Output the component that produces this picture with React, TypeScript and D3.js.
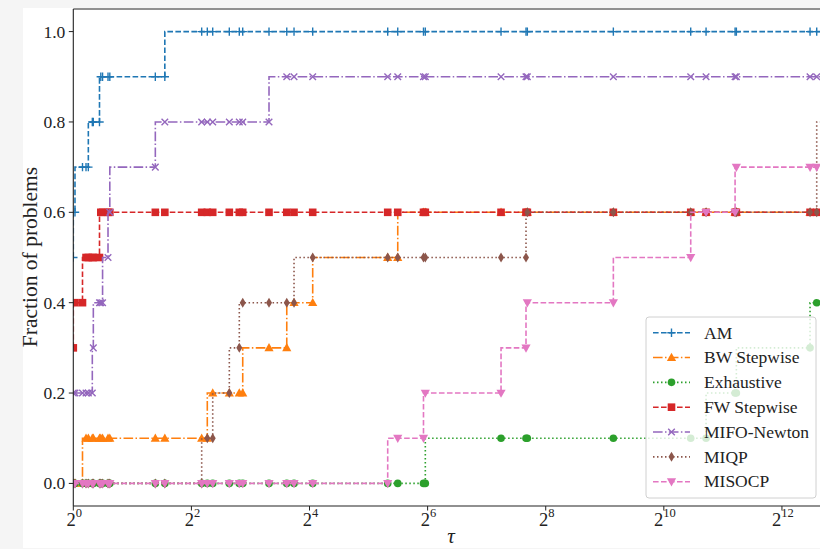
import React, { useEffect, useRef } from 'react';
import * as d3 from 'd3';

// common tau grid (performance ratios of all solvers)
const tau = [1, 1.02, 1.114, 1.161, 1.193, 1.25, 1.265, 1.36, 1.381, 1.41,
  1.503, 1.535, 2.619, 2.928, 4.513, 4.82, 5.137, 6.242, 7.018, 7.306,
  9.946, 12.25, 13.34, 16.61, 40.06, 45.07, 60.97, 62.29, 151.5, 203.1,
  206.3, 566.2, 1404, 1681, 2363, 2399, 5697, 6161, 7116];

const solverNames = ['AM', 'BW Stepwise', 'Exhaustive', 'FW Stepwise', 'MIFO-Newton', 'MIQP', 'MISOCP'];

const amValues = [0.5, 0.6, 0.7, 0.7, 0.7, 0.8, 0.8, 0.8, 0.9, 0.9,
  0.9, 0.9, 0.9, 0.9, 1, 1, 1, 1, 1, 1,
  1, 1, 1, 1, 1, 1, 1, 1, 1, 1,
  1, 1, 1, 1, 1, 1, 1, 1, 1];
const bwValues = [0, 0, 0, 0.1, 0.1, 0.1, 0.1, 0.1, 0.1, 0.1,
  0.1, 0.1, 0.1, 0.1, 0.1, 0.1, 0.2, 0.2, 0.2, 0.2,
  0.3, 0.3, 0.4, 0.4, 0.5, 0.5, 0.6, 0.6, 0.6, 0.6,
  0.6, 0.6, 0.6, 0.6, 0.6, 0.6, 0.6, 0.6, 0.6];
const exhaustiveValues = [0, 0, 0, 0, 0, 0, 0, 0, 0, 0,
  0, 0, 0, 0, 0, 0, 0, 0, 0, 0,
  0, 0, 0, 0, 0, 0, 0, 0, 0.1, 0.1,
  0.1, 0.1, 0.1, 0.1, 0.2, 0.2, 0.3, 0.4, 0.4];
const fwValues = [0.3, 0.4, 0.4, 0.5, 0.5, 0.5, 0.5, 0.5, 0.6, 0.6,
  0.6, 0.6, 0.6, 0.6, 0.6, 0.6, 0.6, 0.6, 0.6, 0.6,
  0.6, 0.6, 0.6, 0.6, 0.6, 0.6, 0.6, 0.6, 0.6, 0.6,
  0.6, 0.6, 0.6, 0.6, 0.6, 0.6, 0.6, 0.6, 0.6];
const mifoValues = [0.2, 0.2, 0.2, 0.2, 0.2, 0.2, 0.3, 0.4, 0.4, 0.4,
  0.5, 0.6, 0.7, 0.8, 0.8, 0.8, 0.8, 0.8, 0.8, 0.8,
  0.8, 0.9, 0.9, 0.9, 0.9, 0.9, 0.9, 0.9, 0.9, 0.9,
  0.9, 0.9, 0.9, 0.9, 0.9, 0.9, 0.9, 0.9, 0.9];
const miqpValues = [0, 0, 0, 0, 0, 0, 0, 0, 0, 0,
  0, 0, 0, 0, 0, 0.1, 0.1, 0.2, 0.3, 0.4,
  0.4, 0.4, 0.4, 0.5, 0.5, 0.5, 0.5, 0.5, 0.5, 0.5,
  0.6, 0.6, 0.6, 0.6, 0.6, 0.6, 0.6, 0.6, 0.8];
const misocpValues = [0, 0, 0, 0, 0, 0, 0, 0, 0, 0,
  0, 0, 0, 0, 0, 0, 0, 0, 0, 0,
  0, 0, 0, 0, 0, 0.1, 0.1, 0.2, 0.2, 0.3,
  0.4, 0.4, 0.5, 0.6, 0.6, 0.7, 0.7, 0.7, 0.7];

const yTicks = [0, 0.2, 0.4, 0.6, 0.8, 1.0];
const xTickExponents = [0, 2, 4, 6, 8, 10, 12];

const series = [
  { name: solverNames[0], values: amValues, color: '#1f77b4', dash: '5.6,2.4', marker: 'plus' },
  { name: solverNames[1], values: bwValues, color: '#ff7f0e', dash: '9.6,2.4,1.5,2.4', marker: 'triUp' },
  { name: solverNames[2], values: exhaustiveValues, color: '#2ca02c', dash: '1.5,2.5', marker: 'circle' },
  { name: solverNames[3], values: fwValues, color: '#d62728', dash: '5.6,2.4', marker: 'square' },
  { name: solverNames[4], values: mifoValues, color: '#9467bd', dash: '9.6,2.4,1.5,2.4', marker: 'x' },
  { name: solverNames[5], values: miqpValues, color: '#8c564b', dash: '1.5,2.5', marker: 'thinDiamond' },
  { name: solverNames[6], values: misocpValues, color: '#e377c2', dash: '5.6,2.4', marker: 'triDown' },
];

const FONT = "'Liberation Serif', 'DejaVu Serif', serif";

function drawMarker(g: any, shape: string, color: string, x: number, y: number) {
  if (shape === 'plus') {
    g.append('path').attr('d', `M${x - 4.2},${y}H${x + 4.2}M${x},${y - 4.2}V${y + 4.2}`)
      .attr('stroke', color).attr('stroke-width', 1.4).attr('fill', 'none');
  } else if (shape === 'x') {
    g.append('path').attr('d', `M${x - 3.3},${y - 3.3}L${x + 3.3},${y + 3.3}M${x - 3.3},${y + 3.3}L${x + 3.3},${y - 3.3}`)
      .attr('stroke', color).attr('stroke-width', 1.4).attr('fill', 'none');
  } else if (shape === 'circle') {
    g.append('circle').attr('cx', x).attr('cy', y).attr('r', 3.8).attr('fill', color);
  } else if (shape === 'square') {
    g.append('rect').attr('x', x - 3.8).attr('y', y - 3.8).attr('width', 7.6).attr('height', 7.6).attr('fill', color);
  } else if (shape === 'triUp') {
    g.append('path').attr('d', `M${x},${y - 4.8}L${x + 4.6},${y + 3.4}L${x - 4.6},${y + 3.4}Z`).attr('fill', color);
  } else if (shape === 'triDown') {
    g.append('path').attr('d', `M${x},${y + 4.8}L${x + 4.6},${y - 3.4}L${x - 4.6},${y - 3.4}Z`).attr('fill', color);
  } else if (shape === 'thinDiamond') {
    g.append('path').attr('d', `M${x},${y - 5}L${x + 3},${y}L${x},${y + 5}L${x - 3},${y}Z`).attr('fill', color);
  }
}

export default function App() {
  const svgRef = useRef<SVGSVGElement>(null);

  useEffect(() => {
    const svg = d3.select(svgRef.current);
    svg.selectAll('*').remove();

    const left = 73.3, top = 9, bottom = 506;
    const right = 829;

    // page background + white figure
    svg.append('rect').attr('width', 820).attr('height', 549).attr('fill', '#f5f5f5');
    svg.append('rect').attr('x', 23).attr('y', 8).attr('width', 797).attr('height', 540).attr('fill', '#ffffff');

    const x = d3.scaleLog().base(2).domain([1, d3.max(tau) as number]).range([left, right]);
    const y = d3.scaleLinear().domain([-0.05, 1.05]).range([bottom, top]);

    svg.append('defs').append('clipPath').attr('id', 'plot-clip')
      .append('rect').attr('x', left).attr('y', top).attr('width', right - left).attr('height', bottom - top);

    const plot = svg.append('g').attr('clip-path', 'url(#plot-clip)');

    const line = d3.line<number>()
      .x((_, i) => x(tau[i]))
      .y(d => y(d))
      .curve(d3.curveStepBefore);

    series.forEach(s => {
      plot.append('path')
        .attr('d', line(s.values))
        .attr('fill', 'none')
        .attr('stroke', s.color)
        .attr('stroke-width', 1.6)
        .attr('stroke-dasharray', s.dash);
      const mg = plot.append('g');
      s.values.forEach((v, i) => drawMarker(mg, s.marker, s.color, x(tau[i]), y(v)));
    });

    // spines
    const axisColor = '#222';
    svg.append('line').attr('x1', left).attr('x2', left).attr('y1', top).attr('y2', bottom)
      .attr('stroke', axisColor).attr('stroke-width', 1.1);
    svg.append('line').attr('x1', left).attr('x2', 820).attr('y1', bottom).attr('y2', bottom)
      .attr('stroke', axisColor).attr('stroke-width', 1.1);
    svg.append('line').attr('x1', left).attr('x2', 820).attr('y1', top).attr('y2', top)
      .attr('stroke', axisColor).attr('stroke-width', 1.1);

    // y ticks
    yTicks.forEach(t => {
      svg.append('line').attr('x1', left - 4.5).attr('x2', left).attr('y1', y(t)).attr('y2', y(t))
        .attr('stroke', axisColor).attr('stroke-width', 1);
      svg.append('text').attr('x', left - 8).attr('y', y(t) + 6)
        .attr('text-anchor', 'end').attr('font-family', FONT).attr('font-size', 17.5).attr('fill', '#222')
        .text(t.toFixed(1));
    });

    // x ticks (powers of two)
    xTickExponents.forEach(e => {
      const px = x(Math.pow(2, e));
      svg.append('line').attr('x1', px).attr('x2', px).attr('y1', bottom).attr('y2', bottom + 4.5)
        .attr('stroke', axisColor).attr('stroke-width', 1);
      const t = svg.append('text').attr('x', px + 1).attr('y', 526)
        .attr('text-anchor', 'middle').attr('font-family', FONT).attr('font-size', 18.5).attr('fill', '#222');
      t.append('tspan').text('2');
      t.append('tspan').attr('dy', -9).attr('font-size', 12.5).text(String(e));
    });

    // axis labels
    svg.append('text').attr('x', 451).attr('y', 543).attr('text-anchor', 'middle')
      .attr('font-family', FONT).attr('font-style', 'italic').attr('font-size', 21).attr('fill', '#222')
      .text('τ');
    svg.append('text').attr('transform', 'translate(37,257) rotate(-90)').attr('text-anchor', 'middle')
      .attr('font-family', FONT).attr('font-size', 21.5).attr('fill', '#222')
      .text('Fraction of problems');

    // legend
    const lg = svg.append('g');
    lg.append('rect').attr('x', 646).attr('y', 317).attr('width', 170).attr('height', 181).attr('rx', 3)
      .attr('fill', 'rgba(255,255,255,0.8)').attr('stroke', '#d0d0d0').attr('stroke-width', 1);
    series.forEach((s, i) => {
      const cy = 332.7 + i * 24.83;
      lg.append('line').attr('x1', 653).attr('x2', 690).attr('y1', cy).attr('y2', cy)
        .attr('stroke', s.color).attr('stroke-width', 1.6).attr('stroke-dasharray', s.dash);
      drawMarker(lg, s.marker, s.color, 671.5, cy);
      lg.append('text').attr('x', 704).attr('y', cy + 5.8)
        .attr('font-family', FONT).attr('font-size', 17.5).attr('fill', '#222').text(s.name);
    });

    svg.append('rect').attr('x', 0).attr('y', 548).attr('width', 820).attr('height', 1).attr('fill', '#f5f5f5');
  }, []);

  return (
    <svg ref={svgRef} width={820} height={549}
      style={{ position: 'absolute', left: 0, top: 0, display: 'block' }} />
  );
}
